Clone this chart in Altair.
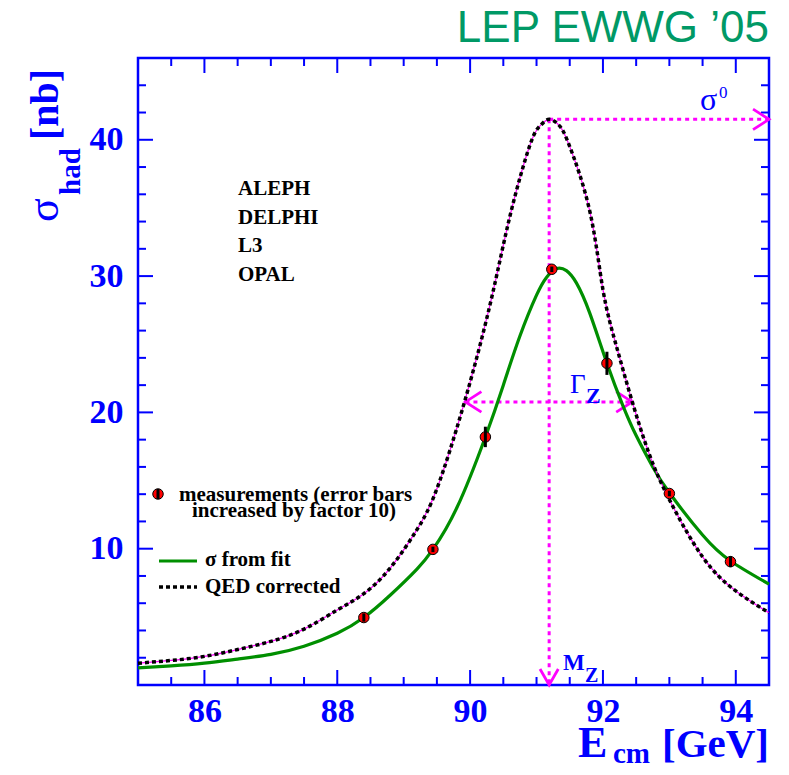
import altair as alt
import pandas as pd

# ---------------- data ----------------
E_qed = [85.0, 85.5, 86.0, 86.5, 87.0, 87.5, 88.0, 88.4, 88.8, 89.2, 89.5, 89.9,
         90.3, 90.6, 90.9, 91.05, 91.19, 91.35, 91.5, 91.8, 92.0, 92.2, 92.44,
         92.7, 93.0, 93.5, 94.0, 94.5]
sig_qed = [1.6, 1.8, 2.1, 2.6, 3.2, 4.1, 5.5, 6.7, 8.6, 11.4, 14.4, 20.5,
           27.9, 34.4, 39.6, 41.0, 41.5, 41.0, 39.5, 34.8, 29.0, 24.9, 20.8,
           16.9, 13.6, 9.4, 6.9, 5.3]

E_fit = [85.0, 85.5, 86.0, 86.5, 87.0, 87.5, 88.0, 88.4, 88.8, 89.2, 89.44, 89.8,
         90.23, 90.5, 90.75, 91.0, 91.15, 91.3, 91.45, 91.6, 91.8, 92.06, 92.3,
         92.5, 92.75, 93.0, 93.5, 93.92, 94.5]
sig_fit = [1.25, 1.4, 1.6, 1.9, 2.25, 2.85, 3.8, 4.95, 6.6, 8.5, 9.95, 13.0,
           18.2, 22.0, 25.6, 28.6, 29.9, 30.55, 30.4, 29.5, 27.3, 23.6, 20.5,
           18.3, 16.0, 14.1, 11.0, 9.1, 7.4]

E_meas = [88.40, 89.44, 90.23, 91.23, 92.06, 93.00, 93.92]
sig_meas = [4.95, 9.95, 18.2, 30.5, 23.6, 14.05, 9.05]
err_meas = [0.3, 0.2, 0.75, 0.2, 0.85, 0.2, 0.4]   # already x10

x_major = [86, 88, 90, 92, 94]
x_minor = [85.5, 86.5, 87, 87.5, 88.5, 89, 89.5, 90.5, 91, 91.5, 92.5, 93, 93.5, 94.5]
y_major = [10, 20, 30, 40]
y_minor = [2, 4, 6, 8, 12, 14, 16, 18, 22, 24, 26, 28, 32, 34, 36, 38, 42, 44]

MZ = 91.19
SIG0 = 41.5
HALF = 20.77
GAM_LO = 89.93
GAM_HI = 92.44
X_LO, X_HI = 85.0, 94.5
Y_LO, Y_HI = 0.0, 46.0

experiments = ["ALEPH", "DELPHI", "L3", "OPAL"]

# ---------------- styling ----------------
W, H = 631, 627
BLUE = "#0000FF"
MAG = "#FF00FF"
GREEN = "#008F00"
SERIF = "Liberation Serif"

xs = alt.Scale(domain=[X_LO, X_HI], nice=False, zero=False)
ys = alt.Scale(domain=[Y_LO, Y_HI], nice=False, zero=False)
xax = alt.Axis(values=x_major, title=None, format="d", labelOverlap=False)
yax = alt.Axis(values=y_major, title=None, format="d", labelOverlap=False)


def X(f="E"):
    return alt.X(f"{f}:Q", scale=xs, axis=xax)


def Y(f="s"):
    return alt.Y(f"{f}:Q", scale=ys, axis=yax)


one = pd.DataFrame({"k": [0]})


def txt(s, x, y, size, color="black", font=SERIF, weight="bold", align="left",
        angle=0, baseline="alphabetic"):
    return alt.Chart(one).mark_text(
        text=s, font=font, fontSize=size, fontWeight=weight, color=color,
        align=align, baseline=baseline, angle=angle
    ).encode(x=alt.value(x), y=alt.value(y))


qed = pd.DataFrame({"E": E_qed, "s": sig_qed})
fit = pd.DataFrame({"E": E_fit, "s": sig_fit})
meas = pd.DataFrame({"E": E_meas, "s": sig_meas,
                     "lo": [s - e for s, e in zip(sig_meas, err_meas)],
                     "hi": [s + e for s, e in zip(sig_meas, err_meas)]})

layers = []

# ticks (inward) drawn via the scales
xmaj = pd.DataFrame({"E": x_major})
xmin = pd.DataFrame({"E": x_minor})
ymaj = pd.DataFrame({"s": y_major})
ymin = pd.DataFrame({"s": y_minor})
tick = dict(color=BLUE, strokeWidth=2)
layers += [
    alt.Chart(xmaj).mark_rule(**tick).encode(x=X(), y=alt.value(H), y2=alt.value(H - 15)),
    alt.Chart(xmaj).mark_rule(**tick).encode(x=X(), y=alt.value(0), y2=alt.value(15)),
    alt.Chart(xmin).mark_rule(**tick).encode(x=X(), y=alt.value(H), y2=alt.value(H - 8)),
    alt.Chart(xmin).mark_rule(**tick).encode(x=X(), y=alt.value(0), y2=alt.value(8)),
    alt.Chart(ymaj).mark_rule(**tick).encode(y=Y(), x=alt.value(0), x2=alt.value(15)),
    alt.Chart(ymaj).mark_rule(**tick).encode(y=Y(), x=alt.value(W), x2=alt.value(W - 15)),
    alt.Chart(ymin).mark_rule(**tick).encode(y=Y(), x=alt.value(0), x2=alt.value(8)),
    alt.Chart(ymin).mark_rule(**tick).encode(y=Y(), x=alt.value(W), x2=alt.value(W - 8)),
]

# magenta annotation lines
dot = dict(color=MAG, strokeWidth=3, strokeDash=[4, 4])
hline = pd.DataFrame({"E": [MZ], "E2": [X_HI], "s": [SIG0]})
vline = pd.DataFrame({"E": [MZ], "s": [SIG0], "s2": [Y_LO]})
gline = pd.DataFrame({"E": [GAM_LO], "E2": [GAM_HI], "s": [HALF]})
layers += [
    alt.Chart(hline).mark_rule(**dot).encode(x=X(), x2="E2:Q", y=Y()),
    alt.Chart(vline).mark_rule(**dot).encode(x=X(), y=Y(), y2="s2:Q"),
    alt.Chart(gline).mark_rule(**dot).encode(x=X(), x2="E2:Q", y=Y()),
]

# chevrons
right_chev = "M -1.4 -0.9 L 0 0 L -1.4 0.9"
left_chev = "M 1.4 -0.9 L 0 0 L 1.4 0.9"
down_chev = "M -0.8 -1.4 L 0 0 L 0.8 -1.4"
chev = dict(filled=False, stroke=MAG, strokeWidth=2.8, size=520, opacity=1)
layers += [
    alt.Chart(pd.DataFrame({"E": [X_HI, GAM_HI], "s": [SIG0, HALF]}))
    .mark_point(shape=right_chev, **chev).encode(x=X(), y=Y()),
    alt.Chart(pd.DataFrame({"E": [GAM_LO], "s": [HALF]}))
    .mark_point(shape=left_chev, **chev).encode(x=X(), y=Y()),
    alt.Chart(pd.DataFrame({"E": [MZ], "s": [Y_LO]}))
    .mark_point(shape=down_chev, **chev).encode(x=X(), y=Y()),
]

# curves
layers += [
    alt.Chart(fit).mark_line(color=GREEN, strokeWidth=3.2, interpolate="natural")
    .encode(x=X(), y=Y()),
    alt.Chart(qed).mark_line(color=MAG, strokeWidth=1.2, interpolate="natural")
    .encode(x=X(), y=Y()),
    alt.Chart(qed).mark_line(color="black", strokeWidth=3.5, strokeDash=[4, 3],
                             interpolate="natural")
    .encode(x=X(), y=Y()),
]

# measurements
layers += [
    alt.Chart(meas).mark_point(shape="circle", filled=True, fill="#FF0000", stroke="black",
                               strokeWidth=1, size=110, opacity=1)
    .encode(x=X(), y=Y()),
    alt.Chart(meas).mark_rule(color="black", strokeWidth=3).encode(x=X(), y=Y("lo"), y2="hi:Q"),
]

# legend (manual)
layers += [
    alt.Chart(one).mark_point(shape="circle", filled=True, fill="#FF0000", stroke="black",
                              strokeWidth=1, size=110, opacity=1)
    .encode(x=alt.value(20), y=alt.value(436)),
    alt.Chart(one).mark_rule(color="black", strokeWidth=3)
    .encode(x=alt.value(20), y=alt.value(431), y2=alt.value(441)),
    txt("measurements (error bars", 41, 443, 21),
    txt("increased by factor 10)", 54, 459, 21),
    alt.Chart(one).mark_rule(color=GREEN, strokeWidth=3.2)
    .encode(x=alt.value(21), x2=alt.value(59), y=alt.value(503)),
    txt("σ from fit", 67, 508, 21),
    alt.Chart(one).mark_rule(color="black", strokeWidth=3.5, strokeDash=[4, 3])
    .encode(x=alt.value(21), x2=alt.value(59), y=alt.value(529)),
    txt("QED corrected", 67, 535, 21),
]

# experiment names
for i, name in enumerate(experiments):
    layers.append(txt(name, 100, 137 + 28.5 * i, 21))

# annotation labels
layers += [
    txt("σ", 562, 52, 32, color=BLUE, weight="normal"),
    txt("0", 581, 40, 17, color=BLUE, weight="normal"),
    txt("Γ", 432, 335, 27, color=BLUE, weight="normal"),
    txt("Z", 448, 345, 22, color=BLUE),
    txt("M", 425, 612, 23, color=BLUE),
    txt("Z", 447, 624, 20, color=BLUE),
]

# title
layers.append(txt("LEP EWWG \u201905", W, -16, 44, color="#009966", font="Liberation Sans",
                  weight="normal", align="right"))

# axis titles
layers += [
    txt("E", 440, 699, 44, color=BLUE),
    txt("cm", 475, 705, 29, color=BLUE),
    txt("[GeV]", W, 699, 41, color=BLUE, align="right"),
    txt("σ", -80, 164, 44, color=BLUE, weight="normal", angle=270),
    txt("had", -58, 137, 29, color=BLUE, angle=270),
    txt("[nb]", -80, 82, 40, color=BLUE, angle=270),
]

chart = alt.layer(*layers).properties(
    width=W, height=H,
    autosize=alt.AutoSizeParams(type="none"),
    padding={"left": 130, "top": 50, "right": 12, "bottom": 82},
).configure_view(
    stroke=BLUE, strokeWidth=2.5
).configure_axis(
    grid=False, domain=False, ticks=False, labelColor=BLUE, labelFont=SERIF,
    labelFontWeight="bold", labelFontSize=34
).configure_axisX(labelPadding=9).configure_axisY(labelPadding=15)

chart.save("out.html", embed_options={"renderer": "svg", "actions": False})
